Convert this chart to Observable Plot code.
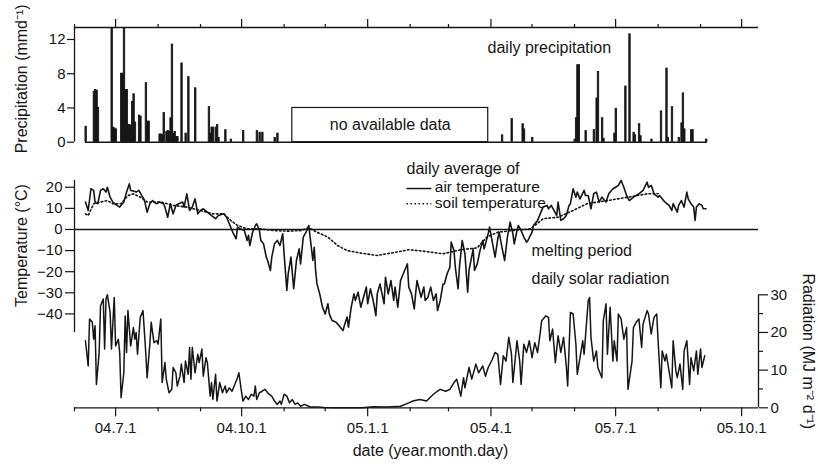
<!DOCTYPE html>
<html><head><meta charset="utf-8">
<script src="https://cdn.jsdelivr.net/npm/d3@7"></script>
<script src="https://cdn.jsdelivr.net/npm/@observablehq/plot@0.6"></script>
<style>
html,body{margin:0;padding:0;background:#fff;}
#chart{position:relative;width:818px;height:464px;overflow:hidden;}
#chart svg{position:absolute;left:0;top:0;}
</style></head><body><div id="chart"></div>
<script>
// ---- data (days counted from 2004-06-01) ----
const recordStart = "2004-06-01";
const recordEndDay = 499.3;            // right end of the time axis
const precipitation = [[8,1.8],[14,5.9],[15,6.1],[16,6.0],[17,4.0],[27,16],[28,1.7],[29,1.6],[30,1.5],[34,8.0],[35,8.0],[36,16],[37,6.1],[38,6.1],[39,2.0],[40,2.0],[41,1.9],[42,4.7],[43,5.6],[44,2.3],[47,3.1],[48,3.0],[52,6.9],[53,2.4],[54,2.4],[62,0.9],[63,0.9],[64,0.8],[65,3.4],[67,1.2],[68,1.3],[69,1.2],[70,2.8],[71,11.4],[72,1.0],[73,1.2],[74,0.6],[75,0.6],[78,9.2],[81,1.0],[83,7.6],[88,6.3],[98,4.1],[99,1.0],[100,1.7],[101,1.7],[103,1.7],[104,2.0],[105,0.5],[110,1.4],[114,0.3],[123,1.3],[133,1.3],[135,1.1],[137,1.1],[146,0.5],[148,1.0],[312,0.8],[319,2.7],[327,2.1],[328,1.5],[334,0.5],[365,0.3],[366,2.8],[367,9.0],[368,9.0],[373,1.3],[379,1.4],[381,5.1],[382,8.2],[385,2.8],[386,0.4],[394,1.0],[395,3.9],[402,6.5],[405,12.6],[408,1.1],[409,0.8],[412,2.1],[413,0.7],[421,0.3],[428,3.6],[432,8.6],[433,0.5],[436,4.1],[441,0.5],[443,2.2],[444,5.7],[445,1.5],[450,1.4],[451,1.4],[461,0.3]];
const precipRecord = [8, 462];
const noDataGap = [159, 302];
const noDataBoxHeight = 4;
const precipTicks = [0, 4, 8, 12];
const precipDomain = [0, 13.4];

const airTemperature = [[8,13],[10,9],[12,19.3],[14,18.5],[15,13],[17,12.2],[19,18.5],[21,19.3],[23,17.7],[24,20],[26,15.3],[28,13],[31,11.4],[33,10.6],[36,13],[38,17.7],[40,21.6],[41,18.5],[43,18.2],[45,17.7],[47,18.5],[49,16.1],[51,14],[53,8.2],[55,12.2],[57,13.7],[58,13],[60,12.2],[62,13],[65,12.2],[66,10.6],[68,5.8],[70,12.2],[72,7.4],[74,11.4],[76,12.2],[79,13],[80,10.6],[82,16.9],[84,9],[86,10.6],[88,14.5],[90,7.4],[92,9],[94,9.8],[97,8.2],[100,6.6],[103,5.1],[105,6.6],[109,7.4],[111,5.8],[114,1.1],[116,-2],[118,-4.4],[119,1.1],[121,0.3],[124,-0.5],[126,-5.2],[127,-2.8],[128,-7.6],[130,-1.3],[132,1.9],[133,2.7],[135,-0.5],[136,-5.2],[138,-6.8],[140,-13.1],[141,-14.7],[143,-19.4],[144,-13.1],[146,-6.8],[148,-5.2],[150,-7.6],[152,-2],[153,-11.5],[155,-28.9],[156,-21],[158,-13.1],[160,-28],[162,-14.7],[164,-9.2],[165,-16.3],[167,-3.6],[169,-1.3],[171,1.9],[172,-3.6],[174,-14.7],[175,-8.4],[176,-19.4],[177,-25.8],[179,-30.5],[181,-36.8],[183,-40],[185,-35.2],[186,-40],[188,-43.1],[191,-43.9],[193,-45.5],[196,-47.9],[197,-45.5],[199,-41.5],[200,-46.3],[202,-36.8],[204,-30.5],[205,-33.6],[207,-29.7],[209,-36.8],[211,-32.1],[213,-27.3],[214,-35.2],[216,-28.1],[218,-33.6],[220,-40.8],[221,-30.5],[223,-25.8],[226,-35.2],[227,-22.6],[229,-30.5],[231,-24.2],[233,-33.6],[234,-27.3],[236,-36.8],[238,-24.2],[240,-21],[242,-17.9],[243,-16.3],[244,-27.3],[246,-30.5],[248,-37.6],[249,-30.5],[250,-24.2],[253,-32.1],[255,-27.3],[256,-33.6],[258,-32.1],[260,-27.3],[262,-33.6],[264,-30.5],[265,-38.4],[267,-33.6],[269,-25.8],[270,-25.8],[272,-21],[274,-17.9],[275,-6],[277,-10],[278,-17.9],[280,-28.1],[281,-17.9],[283,-5.2],[285,-11.5],[287,-29.7],[288,-19.4],[291,-9.2],[292,-19.4],[294,-16.3],[296,-10],[298,-5.2],[299,-9.2],[302,-2],[303,1.1],[305,-6],[307,-13.1],[309,-4.4],[310,-1.3],[312,-8.4],[314,-14.7],[316,-3.6],[318,3.5],[320,-2],[321,-6.8],[323,-0.5],[324,1.9],[326,-0.5],[328,-3.6],[330,-6],[331,-5.2],[334,-1.3],[335,1.9],[338,4.3],[340,7.4],[342,10.6],[345,11.4],[346,9.8],[348,11.4],[350,9],[352,6.6],[353,13],[355,4.3],[357,5.1],[359,6.6],[361,11.4],[362,12.2],[364,19.3],[366,15.3],[367,17.7],[369,14.5],[372,18.5],[373,16.1],[375,16.1],[377,9.8],[379,16.9],[381,17.7],[383,13],[385,15.3],[388,13],[390,16.9],[393,19.3],[395,20],[397,20.9],[399,23.2],[401,20],[403,16.1],[405,13.7],[408,15.3],[410,16.1],[412,16.9],[415,18.5],[418,22.4],[419,20],[421,20.9],[423,16.9],[426,15.3],[427,16.1],[429,14.5],[431,13],[434,11.4],[436,9],[437,12.2],[440,8.2],[441,11.4],[443,13.7],[445,10.6],[447,17.7],[448,14.5],[450,12.2],[452,10.6],[453,4.3],[454,10.6],[456,12.2],[458,11.4],[459,9.8],[461,9.8]];
const soilTemperature = [[8,7.4],[10,6.6],[14,12.2],[19,13],[24,13.7],[28,12.2],[34,12.2],[39,16.1],[43,16.9],[48,15.3],[53,13],[63,13],[72,11.4],[82,10.6],[92,9],[101,7.4],[109,7.4],[114,4.3],[119,1.9],[126,0.3],[136,0.3],[145,-0.5],[156,-0.8],[165,-0.5],[171,0.8],[177,-1.3],[185,-3.6],[192,-7.6],[199,-10],[209,-11.2],[221,-12.3],[231,-11.2],[244,-9.6],[255,-10.3],[269,-11.5],[282,-9.6],[294,-8.7],[301,-3.6],[309,-1.3],[320,-0.5],[333,0.3],[342,5.1],[353,5.8],[364,9],[374,12.2],[389,13.7],[404,15.3],[418,16.9],[426,16.9]];
const tempTicks = [-40, -30, -20, -10, 0, 10, 20];
const tempDomain = [-48.8, 23.2];

const solarRadiation = [[8,17.8],[10,11.1],[11,23.6],[13,22.7],[14,18.2],[15,21.8],[16,6.2],[18,14.7],[19,27.1],[21,28.9],[22,15.6],[23,28.9],[24,30],[26,25.3],[27,15.6],[29,29.3],[30,16.4],[32,18.2],[33,14.7],[34,2.7],[36,9.3],[37,24.4],[38,14.7],[39,25.8],[41,16.4],[43,21.3],[44,18.2],[45,20],[46,14.2],[48,24],[50,25.8],[52,14.7],[53,8],[55,16.9],[56,22.7],[58,17.3],[60,17.8],[61,16.9],[63,23.6],[64,6.7],[66,12],[67,7.6],[69,4],[71,4.9],[72,10.7],[74,9.3],[75,5.8],[77,8.4],[78,11.6],[80,6.7],[81,12.4],[83,8.9],[84,16],[85,7.6],[86,16],[88,9.3],[90,14.2],[91,12],[93,15.6],[94,8.4],[96,13.3],[97,12],[99,3.1],[100,6.7],[101,2.2],[103,8.9],[104,1.8],[106,6.7],[108,4],[110,5.8],[111,4],[113,5.3],[115,4.4],[117,6.2],[119,8],[120,9.3],[122,4],[123,1.8],[125,3.1],[127,2.2],[129,3.6],[131,3.1],[132,5.8],[133,2.2],[135,4],[137,4.4],[139,4.9],[141,4],[142,3.6],[144,3.1],[146,1.8],[148,0.9],[150,1.8],[151,0.9],[153,3.6],[155,3.1],[157,1.3],[159,2.2],[161,0.9],[163,1.3],[165,0.4],[168,0.9],[172,0.2],[178,0.2],[182,0.1],[190,0],[200,0],[210,0],[218,0.3],[228,0.2],[238,0.4],[244,1.3],[247,1.8],[252,2.2],[257,1.8],[262,3.6],[265,4.4],[267,4.9],[271,4.4],[274,4.9],[277,6.7],[279,7.6],[282,3.1],[284,8],[285,5.3],[288,10.7],[290,7.6],[293,11.6],[295,9.3],[298,11.1],[300,8.4],[302,10.7],[305,12.9],[307,14.7],[309,14.2],[311,6.2],[313,13.8],[315,12.4],[317,18.7],[319,14.2],[320,6.7],[323,17.8],[325,12.4],[326,6.2],[328,16.9],[330,14.7],[332,17.8],[334,13.3],[336,17.3],[338,14.7],[340,20],[341,23.1],[344,24.4],[346,24],[347,17.8],[349,20.9],[351,12],[353,19.1],[355,14.7],[357,18.7],[359,11.1],[360,5.8],[362,25.3],[364,24.9],[366,16.9],[367,8.9],[369,13.3],[371,17.8],[372,14.2],[375,28.4],[376,29.3],[377,18.7],[379,12.4],[381,15.1],[382,10.7],[385,8],[386,23.1],[388,27.6],[389,14.2],[391,26.7],[393,12.4],[394,17.8],[396,12.4],[397,24.9],[399,23.6],[401,18.2],[403,21.3],[404,4.9],[407,12.4],[408,21.3],[410,22.7],[412,23.6],[414,16],[415,22.2],[418,25.8],[419,24.9],[421,19.6],[423,24],[425,24.9],[426,17.8],[428,5.3],[429,15.1],[431,12.4],[432,14.2],[434,9.8],[436,5.3],[437,17.8],[439,9.8],[440,8],[442,11.6],[444,4.9],[445,15.1],[447,17.8],[449,6.2],[450,13.3],[452,9.8],[454,15.1],[455,8.9],[457,15.6],[458,10.7],[460,13.8]];
const radMajorTicks = [0, 10, 20, 30];
const radMinorTicks = [5, 15, 25];
const radDomain = [0, 30];

// ---- helpers ----
const DAY = 864e5;
const t0 = Date.parse(recordStart + "T00:00:00Z");
const toDate = d => new Date(t0 + d * DAY);
const xDomain = [toDate(0), toDate(recordEndDay)];
const months = d3.utcMonth.range(toDate(0), toDate(recordEndDay));
const quarterMonths = months.filter(d => d.getUTCMonth() % 3 === 0);
const minorMonths = months.filter(d => d.getUTCMonth() % 3 !== 0);

const W = 818, H = 464, ML = 74, MR = 60;
const ink = "#161616";
const font = "'Liberation Sans', Arial, Helvetica, sans-serif";
const style = {fontFamily: font, fontSize: "15px", color: ink, background: "transparent", overflow: "visible"};
const noLabel = () => "";
const container = document.getElementById("chart");

// ---- precipitation panel ----
const precipPlot = Plot.plot({
  width: W, height: H, marginLeft: ML, marginRight: MR, marginTop: 27, marginBottom: H - 141.7,
  x: {type: "utc", domain: xDomain},
  y: {domain: precipDomain},
  style,
  marks: [
    Plot.ruleY([precipDomain[1]], {stroke: ink, strokeWidth: 1.3}),
    Plot.ruleX([xDomain[0]], {y1: precipDomain[0], y2: precipDomain[1], stroke: ink, strokeWidth: 1.3}),
    Plot.axisX(minorMonths, {anchor: "top", tickSize: 4, tickFormat: noLabel, label: null, strokeWidth: 1.2}),
    Plot.axisX(quarterMonths, {anchor: "top", tickSize: 9, tickFormat: noLabel, label: null, strokeWidth: 1.2}),
    Plot.axisY(precipTicks, {anchor: "left", tickSize: 7, tickPadding: 2, tickFormat: d3.format("d"), label: null, strokeWidth: 1.2}),
    Plot.ruleY([0], {x1: toDate(precipRecord[0]), x2: toDate(precipRecord[1]), stroke: ink, strokeWidth: 1.4}),
    Plot.rect([noDataGap], {x1: d => toDate(d[0]), x2: d => toDate(d[1]), y1: 0, y2: noDataBoxHeight, stroke: ink, strokeWidth: 1.2, fill: "none"}),
    Plot.text([noDataGap], {x: d => toDate((d[0] + d[1]) / 2), y: noDataBoxHeight / 2, text: () => "no available data", fontSize: 16, fill: ink}),
    Plot.rectY(precipitation, {x1: d => toDate(d[0]), x2: d => toDate(d[0] + 1), y: d => d[1], fill: ink, stroke: ink, strokeWidth: 0.9, clip: true}),
    Plot.text(["daily precipitation"], {x: toDate(301.5), y: 11, text: d => d, textAnchor: "start", fontSize: 16, fill: ink}),
    Plot.text(["Precipitation (mmd\u207B\u00B9)"], {frameAnchor: "left", textAnchor: "middle", dx: -53, dy: -6, rotate: -90, text: d => d, fontSize: 16, fill: ink})
  ]
});
container.appendChild(precipPlot);

// ---- temperature panel ----
const tempPlot = Plot.plot({
  width: W, height: H, marginLeft: ML, marginRight: MR, marginTop: 180, marginBottom: H - 332,
  x: {type: "utc", domain: xDomain, axis: null},
  y: {domain: tempDomain},
  style,
  marks: [
    Plot.ruleY([0], {stroke: ink, strokeWidth: 1.3}),
    Plot.ruleX([xDomain[0]], {y1: tempDomain[0], y2: tempDomain[1], stroke: ink, strokeWidth: 1.3}),
    Plot.axisY(tempTicks, {anchor: "left", tickSize: 9, tickPadding: 3, tickFormat: d3.format("d"), label: null, strokeWidth: 1.2}),
    Plot.line(soilTemperature, {x: d => toDate(d[0]), y: d => d[1], stroke: ink, strokeWidth: 1.6, strokeDasharray: "1.6,2.4"}),
    Plot.line(airTemperature, {x: d => toDate(d[0]), y: d => d[1], stroke: ink, strokeWidth: 1.6}),
    Plot.text(["daily average of"], {x: toDate(242.4), y: 28.9, text: d => d, textAnchor: "start", fontSize: 16, fill: ink}),
    Plot.ruleY([19.4], {x1: toDate(242.7), x2: toDate(260.9), stroke: ink, strokeWidth: 1.5}),
    Plot.text(["air temperature"], {x: toDate(263), y: 20.2, text: d => d, textAnchor: "start", fontSize: 15.5, fill: ink}),
    Plot.ruleY([12.2], {x1: toDate(242.7), x2: toDate(260.9), stroke: ink, strokeWidth: 1.6, strokeDasharray: "1.6,2.4"}),
    Plot.text(["soil temperature"], {x: toDate(263), y: 12.3, text: d => d, textAnchor: "start", fontSize: 15.5, fill: ink}),
    Plot.text(["melting period"], {x: toDate(333.6), y: -10.2, text: d => d, textAnchor: "start", fontSize: 16, fill: ink}),
    Plot.text(["Temperature (\u00B0C)"], {frameAnchor: "left", textAnchor: "middle", dx: -53, dy: -11, rotate: -90, text: d => d, fontSize: 16, fill: ink})
  ]
});
container.appendChild(tempPlot);

// ---- radiation panel and date axis ----
const radPlot = Plot.plot({
  width: W, height: H, marginLeft: ML, marginRight: MR, marginTop: 294.3, marginBottom: H - 407.3,
  x: {type: "utc", domain: xDomain},
  y: {domain: radDomain},
  style,
  marks: [
    Plot.ruleY([radDomain[0]], {stroke: ink, strokeWidth: 1.3}),
    Plot.ruleX([xDomain[1]], {y1: radDomain[0], y2: radDomain[1], stroke: ink, strokeWidth: 1.3}),
    Plot.axisX(minorMonths, {anchor: "bottom", tickSize: 4, tickFormat: noLabel, label: null, strokeWidth: 1.2}),
    Plot.axisX(quarterMonths, {anchor: "bottom", tickSize: 9, tickPadding: 6, tickFormat: d3.utcFormat("%y.%-m.%-d"), label: null, strokeWidth: 1.2}),
    Plot.axisY(radMinorTicks, {anchor: "right", tickSize: 4, tickFormat: noLabel, label: null, strokeWidth: 1.2}),
    Plot.axisY(radMajorTicks, {anchor: "right", tickSize: 9, tickPadding: 3, tickFormat: d3.format("d"), label: null, strokeWidth: 1.2}),
    Plot.line(solarRadiation, {x: d => toDate(d[0]), y: d => d[1], stroke: ink, strokeWidth: 1.5}),
    Plot.text(["daily solar radiation"], {x: toDate(333.6), y: 34.3, text: d => d, textAnchor: "start", fontSize: 16, fill: ink}),
    Plot.text(["Radiation (MJ m\u207B\u00B2 d\u207B\u00B9)"], {frameAnchor: "right", textAnchor: "middle", dx: 50, rotate: 90, text: d => d, fontSize: 16, fill: ink}),
    Plot.text(["date (year.month.day)"], {frameAnchor: "bottom", textAnchor: "middle", dx: 14, dy: 48, text: d => d, fontSize: 16, fill: ink})
  ]
});
container.appendChild(radPlot);
</script></body></html>
